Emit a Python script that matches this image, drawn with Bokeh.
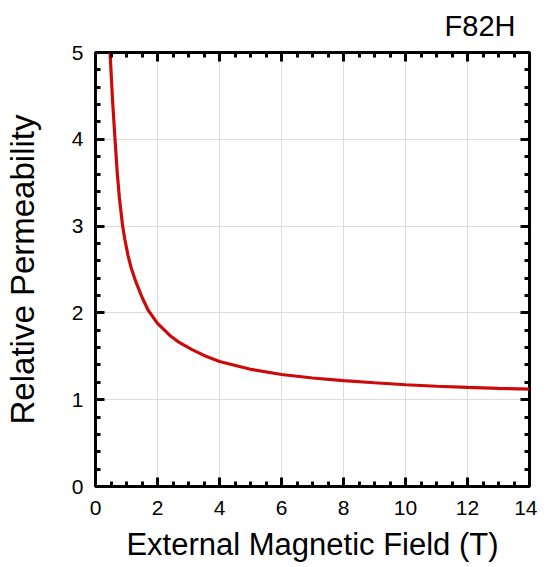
from bokeh.plotting import figure
from bokeh.models import LinearAxis, Range1d, FixedTicker, Title, CustomLabelingPolicy
from bokeh.embed import file_html
from bokeh.resources import INLINE

# Data
field_T = [0.47, 0.55, 0.63, 0.70, 0.77, 0.875, 0.95, 1.05, 1.15, 1.3, 1.5, 1.7, 2.0,
           2.4, 2.7, 3.1, 3.5, 4.0, 5.0, 6.0, 7.0, 8.0, 9.0, 10.0, 11.0, 12.0, 13.0, 14.0]
rel_perm = [5.0, 4.45, 4.0, 3.62, 3.33, 3.0, 2.84, 2.66, 2.52, 2.36, 2.18, 2.03, 1.88,
            1.74, 1.66, 1.58, 1.51, 1.44, 1.35, 1.29, 1.25, 1.22, 1.195, 1.172, 1.155, 1.142, 1.13, 1.122]
x_major = [0, 2, 4, 6, 8, 10, 12, 14]
x_minor = [i * 0.5 for i in range(29)]
y_major = [0, 1, 2, 3, 4, 5]
y_minor = [i * 0.2 for i in range(26)]

FONT = "Liberation Sans"

p = figure(width=537, height=564, output_backend="svg", toolbar_location=None,
           x_range=Range1d(0, 14), y_range=Range1d(0, 5),
           min_border_left=92, min_border_right=8, min_border_top=47, min_border_bottom=60,
           background_fill_color="white", border_fill_color="white")

p.title = Title(text="F82H", align="right", text_font=FONT, text_font_size="29px",
                text_font_style="normal", text_color="black", offset=14, standoff=14)

p.outline_line_color = "black"
p.outline_line_width = 3
p.outline_line_alpha = 1

p.line(field_T, rel_perm, line_color="#cc0a0a", line_width=3.2)

xa = p.xaxis[0]
ya = p.yaxis[0]
xa.ticker = FixedTicker(ticks=x_major, minor_ticks=x_minor)
ya.ticker = FixedTicker(ticks=y_major, minor_ticks=y_minor)
for ax in (xa, ya):
    ax.major_tick_in = 9
    ax.major_tick_out = 0
    ax.minor_tick_in = 5
    ax.minor_tick_out = 0
    ax.major_tick_line_width = 3
    ax.minor_tick_line_width = 3
    ax.axis_line_width = 3
    ax.axis_line_color = "black"
    ax.major_label_text_font = FONT
    ax.major_label_text_font_size = "21px"
    ax.major_label_text_color = "black"
    ax.axis_label_text_font = FONT
    ax.axis_label_text_font_style = "normal"
    ax.axis_label_text_color = "black"
xa.axis_label = "External Magnetic Field (T)"
ya.axis_label = "Relative Permeability"
xa.axis_label_text_font_size = "31px"
ya.axis_label_text_font_size = "33px"
xa.major_label_standoff = 14
xa.axis_label_standoff = 9
ya.major_label_standoff = 12
ya.axis_label_standoff = 28

no_labels = "for (const i of indices) { indices.unset(i) }; return indices"
top = LinearAxis(ticker=FixedTicker(ticks=x_major, minor_ticks=x_minor))
right = LinearAxis(ticker=FixedTicker(ticks=y_major, minor_ticks=y_minor))
for ax in (top, right):
    ax.major_tick_in = 9
    ax.major_tick_out = 0
    ax.minor_tick_in = 5
    ax.minor_tick_out = 0
    ax.major_tick_line_width = 3
    ax.minor_tick_line_width = 3
    ax.axis_line_color = None
    ax.major_label_text_font_size = "1px"
    ax.major_label_standoff = 0
    ax.major_label_policy = CustomLabelingPolicy(code=no_labels)
p.add_layout(top, "above")
p.add_layout(right, "right")

p.xgrid.ticker = FixedTicker(ticks=x_major)
p.ygrid.ticker = FixedTicker(ticks=y_major)
p.xgrid.grid_line_color = "#dcdcdc"
p.ygrid.grid_line_color = "#dcdcdc"
p.xgrid.grid_line_width = 1
p.ygrid.grid_line_width = 1

open("out.html", "w").write(file_html(p, INLINE))
